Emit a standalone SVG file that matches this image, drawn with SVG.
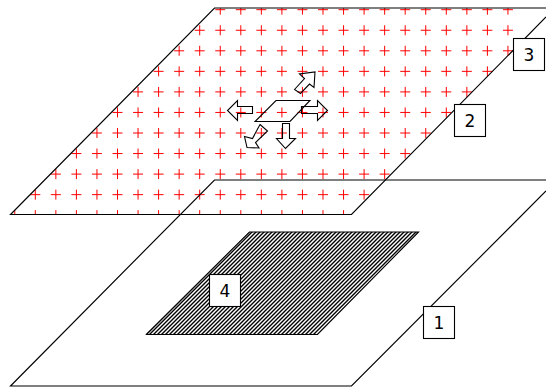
<svg xmlns="http://www.w3.org/2000/svg" width="546" height="387" viewBox="0 0 546 387">
<style>
.plane{fill:none;stroke:#000;stroke-width:1.15}
.arrow{fill:none;stroke:#000;stroke-width:1.1}
.cross{fill:none;stroke:#f00;stroke-width:1}
.hatch{fill:none;stroke:#000;stroke-width:1.4}
.box{fill:#fff;stroke:#000;stroke-width:1.1}
.lbl{font-family:"DejaVu Sans",sans-serif;font-size:17px;fill:#000;text-anchor:middle}
</style>
<defs>
<clipPath id="upperClip"><polygon points="10,214.5 351,214.5 557,8 214,8"/></clipPath>
<clipPath id="hatchClip"><polygon points="146,334 317,334 419,232 249,232"/></clipPath>
<path id="row" class="cross" d="M9.75 0h10m-5-5v10m15.55-5h10m-5-5v10m15.55-5h10m-5-5v10m15.55-5h10m-5-5v10m15.55-5h10m-5-5v10m15.55-5h10m-5-5v10m15.55-5h10m-5-5v10m15.55-5h10m-5-5v10m15.55-5h10m-5-5v10m15.55-5h10m-5-5v10m15.55-5h10m-5-5v10m15.55-5h10m-5-5v10m15.55-5h10m-5-5v10m15.55-5h10m-5-5v10m15.55-5h10m-5-5v10m15.55-5h10m-5-5v10m15.55-5h10m-5-5v10m15.55-5h10m-5-5v10m15.55-5h10m-5-5v10m15.55-5h10m-5-5v10m15.55-5h10m-5-5v10m15.55-5h10m-5-5v10m15.55-5h10m-5-5v10m15.55-5h10m-5-5v10m15.55-5h10m-5-5v10"/>
<pattern id="hatchP" patternUnits="userSpaceOnUse" width="4" height="4">
<path class="hatch" d="M-1 1L1 -1M-1 5L5 -1M3 5L5 3"/>
</pattern>
</defs>
<g id="crosses" clip-path="url(#upperClip)">
<use href="#row" y="9.7"/><use href="#row" y="30.25"/><use href="#row" y="50.8"/><use href="#row" y="71.35"/><use href="#row" y="91.9"/><use href="#row" y="112.45"/><use href="#row" y="133"/><use href="#row" y="153.55"/><use href="#row" y="174.1"/><use href="#row" y="194.65"/><use href="#row" y="215.2"/>
</g>
<g id="node-plane-1">
<path class="plane" d="M546 180H214.5L10.5 386H351.5L546 191"/>
</g>
<g id="node-plane-2">
<path class="plane" d="M546 8H214.5L10.5 214.5H351.5L546 17"/>
</g>
<g id="node-plane-4">
<rect x="140" y="228" width="285" height="110" fill="url(#hatchP)" clip-path="url(#hatchClip)"/>
<polygon class="plane" points="146.5,334.5 317.5,334.5 418.5,232 249.5,232"/>
</g>
<g id="node-small-plane">
<polygon class="arrow" points="255,121.5 290,121.5 310,100.5 276,100.5"/>
</g>
<g id="connectors">
<polygon class="arrow" points="252.5,106.5 237.5,106.5 237.5,100.5 227.5,110.5 237.5,120.5 237.5,113.5 252.5,113.5"/>
<polygon class="arrow" points="301.5,106.5 317.5,106.5 317.5,100.5 327.5,110.5 317.5,120.5 317.5,113.5 301.5,113.5"/>
<polygon class="arrow" points="282.5,123.5 289.5,123.5 289.5,138.5 295.5,138.5 285.5,148.5 276.5,138.5 282.5,138.5"/>
<polygon class="arrow" points="294.5,89.5 304.5,78.5 299.5,74 315,72 314,87.5 309.5,84 300.5,93.5"/>
<polygon class="arrow" points="260,124.5 267.5,131 255.5,142.5 259,148 247,147.5 244.5,136.5 252.5,138.5"/>
</g>
<g id="node-label-1"><rect class="box" x="423.5" y="306.5" width="31" height="32"/><text class="lbl" x="439" y="329">1</text></g>
<g id="node-label-2"><rect class="box" x="454.5" y="104.5" width="31" height="32"/><text class="lbl" x="470" y="127">2</text></g>
<g id="node-label-3"><rect class="box" x="513.5" y="38.5" width="31" height="32"/><text class="lbl" x="529" y="61">3</text></g>
<g id="node-label-4"><rect class="box" x="209.5" y="274.5" width="31" height="32"/><text class="lbl" x="225" y="297">4</text></g>
</svg>
